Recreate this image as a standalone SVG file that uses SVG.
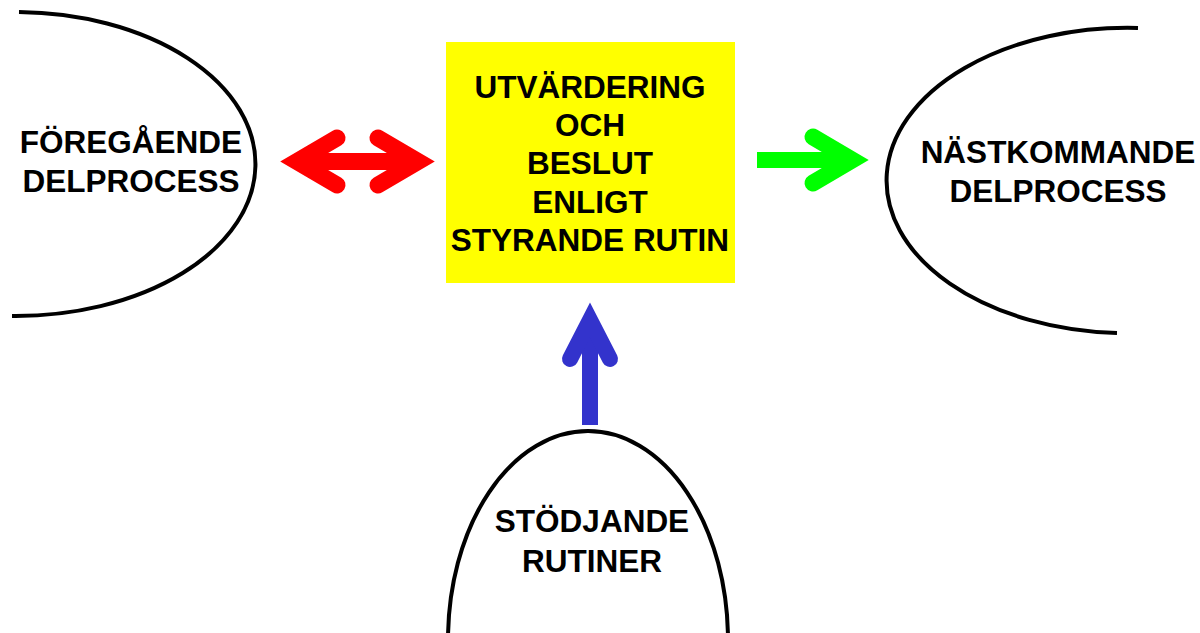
<svg xmlns="http://www.w3.org/2000/svg" width="1200" height="633" viewBox="0 0 1200 633">
  <style>
    .outline { fill: none; stroke: #000000; stroke-width: 4; }
    .label { font-family: "Liberation Sans", Arial, sans-serif; font-weight: bold; font-size: 31.5px; fill: #000000; text-anchor: middle; }
    .head { fill: none; stroke-linecap: round; stroke-linejoin: miter; stroke-miterlimit: 10; }
  </style>
  <rect width="1200" height="633" fill="#ffffff"/>

  <g id="foregaende">
    <path class="outline" d="M19,12 A240,152 0 0 1 12,316"/>
    <text class="label" x="131" y="153">FÖREGÅENDE</text>
    <text class="label" x="131" y="192">DELPROCESS</text>
  </g>

  <g id="utvardering">
    <rect x="446" y="42" width="289" height="241" fill="#ffff00"/>
    <text class="label" x="590" y="98">UTVÄRDERING</text>
    <text class="label" x="590" y="136">OCH</text>
    <text class="label" x="590" y="174">BESLUT</text>
    <text class="label" x="590" y="213">ENLIGT</text>
    <text class="label" x="590" y="251">STYRANDE RUTIN</text>
  </g>

  <g id="nastkommande">
    <path class="outline" d="M1138,28 A240,152 0 0 0 1117,333"/>
    <text class="label" x="1058" y="163">NÄSTKOMMANDE</text>
    <text class="label" x="1058" y="202">DELPROCESS</text>
  </g>

  <g id="stodjande">
    <path class="outline" d="M448,640 A140,209 0 0 1 728,640"/>
    <text class="label" x="592" y="532">STÖDJANDE</text>
    <text class="label" x="592" y="572">RUTINER</text>
  </g>

  <g id="connectors">
    <g id="arrow-red">
      <rect x="297" y="153" width="121" height="17" fill="#ff0000"/>
      <polyline class="head" stroke="#ff0000" stroke-width="17" points="337,138 297,161.5 337,185"/>
      <polyline class="head" stroke="#ff0000" stroke-width="17" points="378,138 418,161.5 378,185"/>
    </g>
    <g id="arrow-green">
      <rect x="757" y="152" width="93" height="16" fill="#00ff00"/>
      <polyline class="head" stroke="#00ff00" stroke-width="17" points="813,137 852,160 813,183"/>
    </g>
    <g id="arrow-blue">
      <rect x="582" y="320" width="16" height="105" fill="#3333cc"/>
      <polyline class="head" stroke="#3333cc" stroke-width="16" points="570,359 590,320 610,359"/>
    </g>
  </g>
</svg>
